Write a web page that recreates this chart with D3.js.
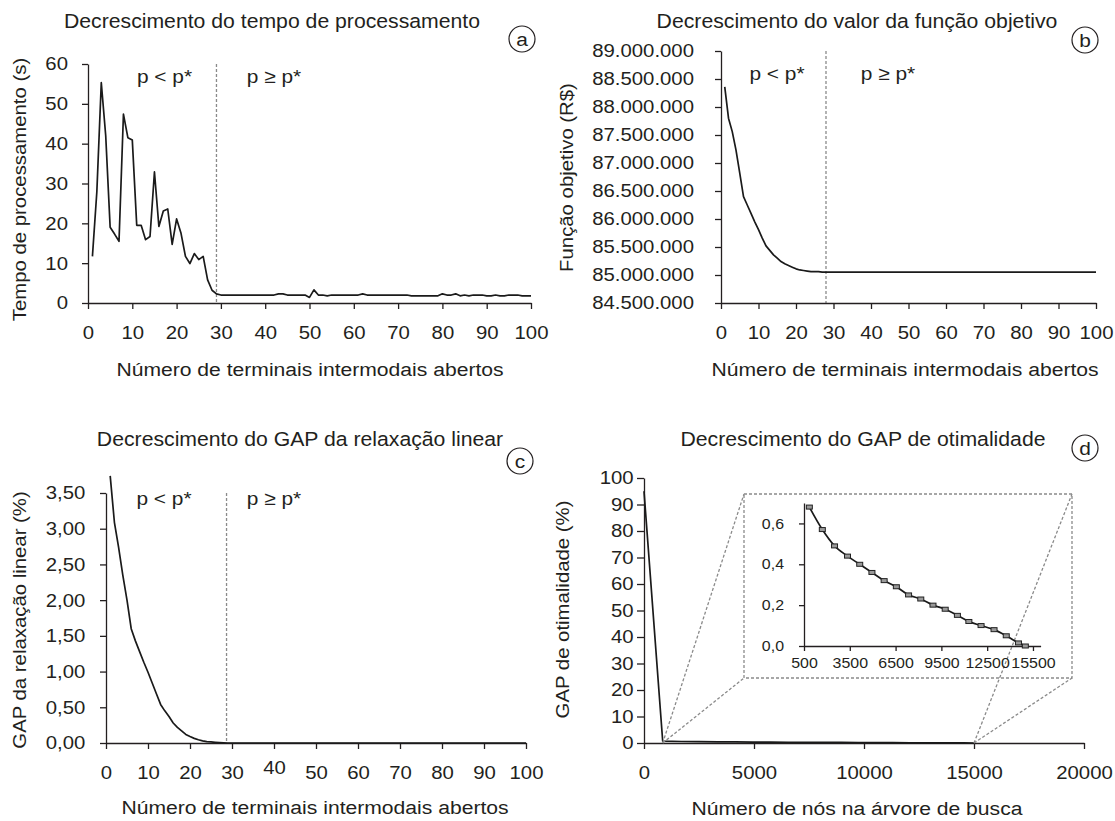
<!DOCTYPE html>
<html>
<head>
<meta charset="utf-8">
<script src="https://cdn.jsdelivr.net/npm/d3@7"></script>
<style>
body{margin:0;background:#fff;}
svg text{font-family:"Liberation Sans",Arial,Helvetica,sans-serif;fill:#231f20;}
.domain,.tick line{stroke:#231f20;stroke-width:1.3;}
.serie{fill:none;stroke:#1a1a1a;stroke-width:1.7;stroke-linejoin:round;}
.corte{stroke:#8a8a8a;stroke-width:1.3;stroke-dasharray:3,2;fill:none;}
</style>
</head>
<body>
<svg width="1115" height="821"></svg>
<script>
// numero de terminais abertos (eixo x de a, b, c)
var terminais = d3.range(1, 101);

// (a) tempo de processamento (s)
var tempoProc = [11.7,28,55.3,42,19.0,17.3,15.5,47.4,41.5,40.9,
	19.5,19.5,15.9,16.7,32.9,19.2,23.1,23.6,14.7,21.1,
	17.5,11.7,9.9,12.4,10.9,11.7,5.8,3.2,2.3,2.0,
	2.0,2.0,2.0,2.0,2.0,2.0,2.0,2.0,2.0,2.0,
	2.0,2.0,2.3,2.3,2.0,2.0,2.0,2.0,2.0,1.4,
	3.3,2.0,2.0,1.8,2.0,2.0,2.0,2.0,2.0,2.0,
	2.0,2.3,2.0,2.0,2.0,2.0,2.0,2.0,2.0,2.0,
	2.0,2.0,1.8,1.8,1.8,1.8,1.8,1.8,1.8,2.3,
	2.0,2.0,2.3,1.8,2.0,1.8,2.0,2.0,2.0,1.8,
	1.8,2.0,1.8,1.8,2.0,2.0,2.0,1.8,1.8,1.8];

// (b) funcao objetivo (R$)
var funcaoObj = [88360000,87800000,87560000,87230000,86820000,86400000,86250000,86100000,85950000,85810000,
	85660000,85520000,85440000,85360000,85300000,85240000,85200000,85170000,85140000,85110000,
	85090000,85080000,85070000,85060000,85060000,85060000,85050000,85050000,85050000,85050000,
	85050000,85050000,85050000,85050000,85050000,85050000,85050000,85050000,85050000,85050000,
	85050000,85050000,85050000,85050000,85050000,85050000,85050000,85050000,85050000,85050000,
	85050000,85050000,85050000,85050000,85050000,85050000,85050000,85050000,85050000,85050000,
	85050000,85050000,85050000,85050000,85050000,85050000,85050000,85050000,85050000,85050000,
	85050000,85050000,85050000,85050000,85050000,85050000,85050000,85050000,85050000,85050000,
	85050000,85050000,85050000,85050000,85050000,85050000,85050000,85050000,85050000,85050000,
	85050000,85050000,85050000,85050000,85050000,85050000,85050000,85050000,85050000,85050000];

// (c) GAP da relaxacao linear (%)
var gapRelax = [3.74,3.09,2.74,2.35,2.00,1.60,1.43,1.28,1.13,0.99,
	0.84,0.69,0.54,0.45,0.37,0.28,0.22,0.17,0.12,0.09,
	0.065,0.045,0.03,0.02,0.015,0.01,0.006,0.003,0,0,
	0,0,0,0,0,0,0,0,0,0, 0,0,0,0,0,0,0,0,0,0,
	0,0,0,0,0,0,0,0,0,0, 0,0,0,0,0,0,0,0,0,0,
	0,0,0,0,0,0,0,0,0,0, 0,0,0,0,0,0,0,0,0,0,
	0,0,0,0,0,0,0,0,0,0];

// (d) GAP de otimalidade x nos na arvore de busca
var nosArvore = [0,850,1700,2500,3350,4150,4950,5750,6550,7350,8150,8950,9750,10550,11300,12100,12950,13750,14550,15000];
var gapOtim = [95,0.68,0.57,0.49,0.44,0.40,0.36,0.32,0.29,0.25,0.23,0.20,0.18,0.15,0.12,0.10,0.08,0.05,0.015,0.0];

// ticks
var ticksTerm = [0,10,20,30,40,50,60,70,80,90,100];
var ticksTempo = [0,10,20,30,40,50,60];
var ticksObj = [84500000,85000000,85500000,86000000,86500000,87000000,87500000,88000000,88500000,89000000];
var ticksRelax = [0,0.5,1,1.5,2,2.5,3,3.5];
var ticksNos = [0,5000,10000,15000,20000];
var ticksOtim = [0,10,20,30,40,50,60,70,80,90,100];
var ticksZoomX = [500,3500,6500,9500,12500,15500];
var ticksZoomY = [0,0.2,0.4,0.6];

var pEstrela = {a: 29, b: 28, c: 28.7};

var K = 1.1; // letras um pouco mais largas, como no original
var svg = d3.select("svg");
var br = d3.formatLocale({decimal: ",", thousands: ".", grouping: [3], currency: ["R$", ""]});

function texto(g, x, y, str, size, anchor, rot) {
	return g.append("text")
		.attr("transform", "translate(" + x + "," + y + ")" + (rot ? " rotate(-90)" : "") + " scale(" + K + ",1)")
		.attr("text-anchor", anchor || "middle")
		.style("font-size", size + "px")
		.text(str);
}

function eixoX(x, y0, ticks, format, size, tick, pad) {
	var ax = svg.append("g").attr("transform", "translate(0," + y0 + ")")
		.call(d3.axisBottom(x).tickValues(ticks).tickFormat(format)
			.tickSize(tick).tickSizeOuter(0).tickPadding(pad));
	ax.selectAll(".tick text").attr("transform", "scale(" + K + ",1)").style("font-size", size + "px");
	return ax;
}

function eixoY(y, x0, ticks, format, size, tick, offset) {
	var ax = svg.append("g").attr("transform", "translate(" + x0 + ",0)")
		.call(d3.axisLeft(y).tickValues(ticks).tickFormat(format)
			.tickSize(tick).tickSizeOuter(0));
	ax.selectAll(".tick text").attr("x", -offset / K)
		.attr("transform", "scale(" + K + ",1)").style("font-size", size + "px");
	return ax;
}

function rotulo(cx, cy, letra) {
	svg.append("circle").attr("cx", cx).attr("cy", cy).attr("r", 13)
		.attr("fill", "none").attr("stroke", "#231f20").attr("stroke-width", 1.2);
	texto(svg, cx, cy + 6.5, letra, 19);
}

function linha(x, y, xs, ys) {
	return d3.line()
		.x(function(d, i) { return x(xs[i]); })
		.y(function(d) { return y(d); })(ys);
}

/* ---------- (a) ---------- */
var xa = d3.scaleLinear().domain([0, 100]).range([88, 531]),
	ya = d3.scaleLinear().domain([0, 60]).range([303, 64]);
svg.append("line").attr("class", "corte")
	.attr("x1", xa(pEstrela.a)).attr("x2", xa(pEstrela.a)).attr("y1", ya(60)).attr("y2", ya(0));
eixoX(xa, 303, ticksTerm, d3.format("d"), 18.5, 6, 17);
eixoY(ya, 88, ticksTempo, d3.format("d"), 18.5, 6, 20);
svg.append("path").attr("class", "serie").attr("d", linha(xa, ya, terminais, tempoProc));
texto(svg, 272, 28, "Decrescimento do tempo de processamento", 19.3);
texto(svg, 310, 376, "Número de terminais intermodais abertos", 19.2);
texto(svg, 26.4, 189.5, "Tempo de processamento (s)", 18.5, "middle", true);
texto(svg, 164.5, 83, "p < p*", 19);
texto(svg, 274, 83, "p ≥ p*", 19);
rotulo(522, 39, "a");

/* ---------- (b) ---------- */
var xb = d3.scaleLinear().domain([0, 100]).range([721, 1096]),
	yb = d3.scaleLinear().domain([84500000, 89000000]).range([303, 51]);
svg.append("line").attr("class", "corte")
	.attr("x1", xb(pEstrela.b)).attr("x2", xb(pEstrela.b)).attr("y1", yb(89000000)).attr("y2", yb(84500000));
eixoX(xb, 303, ticksTerm, d3.format("d"), 18.5, 6, 17);
eixoY(yb, 721, ticksObj, br.format(","), 18.5, 6, 27);
svg.append("path").attr("class", "serie").attr("d", linha(xb, yb, terminais, funcaoObj));
texto(svg, 857, 28, "Decrescimento do valor da função objetivo", 19.3);
texto(svg, 905, 376, "Número de terminais intermodais abertos", 19.2);
texto(svg, 572.5, 177.5, "Função objetivo (R$)", 18.5, "middle", true);
texto(svg, 777, 80, "p < p*", 19);
texto(svg, 888, 80, "p ≥ p*", 19);
rotulo(1085, 40, "b");

/* ---------- (c) ---------- */
var xc = d3.scaleLinear().domain([0, 100]).range([106, 526]),
	yc = d3.scaleLinear().domain([0, 3.5]).range([743, 493]);
svg.append("line").attr("class", "corte")
	.attr("x1", xc(pEstrela.c)).attr("x2", xc(pEstrela.c)).attr("y1", yc(3.5)).attr("y2", yc(0));
var axc = eixoX(xc, 743, ticksTerm, d3.format("d"), 18.5, 6, 17);
// o "40" aparece mais alto no original
axc.selectAll(".tick text").filter(function(d) { return d === 40; }).attr("y", 18);
eixoY(yc, 106, ticksRelax, br.format(".2f"), 18.5, 6, 20.7);
svg.append("path").attr("class", "serie").attr("d", linha(xc, yc, terminais, gapRelax));
texto(svg, 300, 446, "Decrescimento do GAP da relaxação linear", 19.3);
texto(svg, 315, 814, "Número de terminais intermodais abertos", 19.2);
texto(svg, 26.4, 620, "GAP da relaxação linear (%)", 18.5, "middle", true);
texto(svg, 164, 505, "p < p*", 19);
texto(svg, 274, 505, "p ≥ p*", 19);
rotulo(520, 461, "c");

/* ---------- (d) ---------- */
var xd = d3.scaleLinear().domain([0, 20000]).range([644, 1084]),
	yd = d3.scaleLinear().domain([0, 100]).range([743, 478]);
eixoX(xd, 743, ticksNos, d3.format("d"), 18.5, 6, 17);
eixoY(yd, 644, ticksOtim, d3.format("d"), 18.5, 7, 10.4);
svg.append("path").attr("class", "serie").attr("d", linha(xd, yd, nosArvore, gapOtim));
texto(svg, 863, 446, "Decrescimento do GAP de otimalidade", 19.3);
texto(svg, 857, 815, "Número de nós na árvore de busca", 19.2);
texto(svg, 569, 609.5, "GAP de otimalidade (%)", 18.5, "middle", true);
rotulo(1085, 448, "d");

// zoom do trecho final
var caixa = {x0: 744, y0: 494, x1: 1072, y1: 678};
var nIni = nosArvore[1], nFim = nosArvore[nosArvore.length - 1];
svg.append("rect").attr("class", "corte")
	.attr("x", caixa.x0).attr("y", caixa.y0)
	.attr("width", caixa.x1 - caixa.x0).attr("height", caixa.y1 - caixa.y0);
[[xd(nIni), caixa.x0, caixa.y0], [xd(nIni), caixa.x0, caixa.y1],
 [xd(nFim), caixa.x1, caixa.y0], [xd(nFim), caixa.x1, caixa.y1]].forEach(function(s) {
	svg.append("line").attr("class", "corte")
		.attr("x1", s[0]).attr("y1", yd(0)).attr("x2", s[1]).attr("y2", s[2]);
});

var xz = d3.scaleLinear().domain([500, 16000]).range([804, 1040.6]),
	yz = d3.scaleLinear().domain([0, 0.7]).range([646, 503]);
var nosZoom = nosArvore.slice(1), gapZoom = gapOtim.slice(1);
eixoX(xz, 646, ticksZoomX, d3.format("d"), 14.5, 5, 7);
eixoY(yz, 804, ticksZoomY, br.format(".1f"), 14.5, 5, 20);
svg.append("path").attr("class", "serie").attr("stroke-width", 1.4)
	.attr("d", d3.line()
		.x(function(d, i) { return xz(nosZoom[i]); })
		.y(function(d) { return yz(d); })
		.curve(d3.curveMonotoneX)(gapZoom));
svg.append("g").selectAll("rect").data(gapZoom).enter().append("rect")
	.attr("x", function(d, i) { return xz(nosZoom[i]) - 3; })
	.attr("y", function(d) { return yz(d) - 2; })
	.attr("width", 6).attr("height", 4)
	.attr("fill", "#9a9a9a").attr("stroke", "#222").attr("stroke-width", 1);
</script>
</body>
</html>
